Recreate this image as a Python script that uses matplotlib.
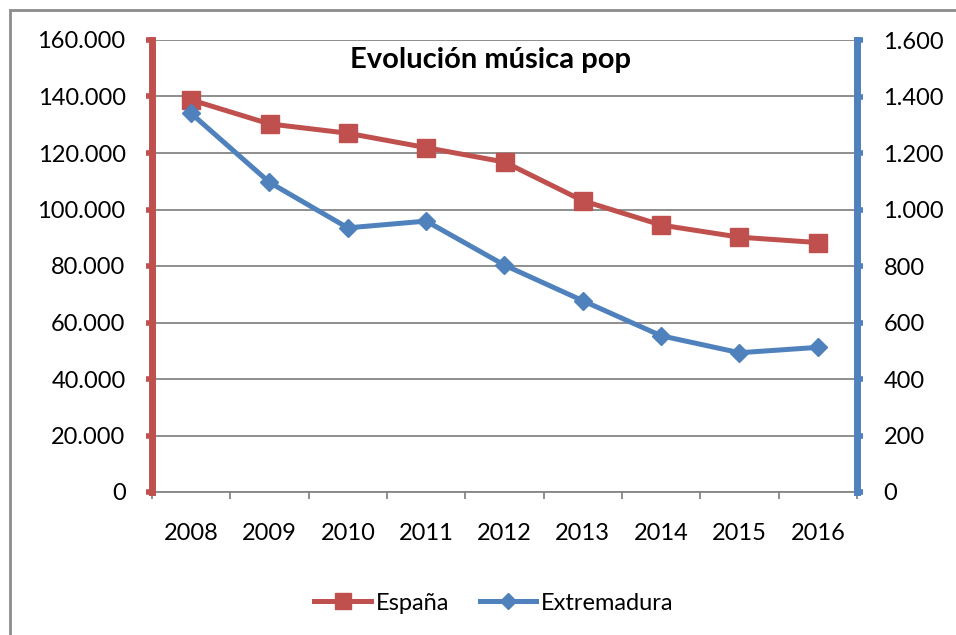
import matplotlib.pyplot as plt
import matplotlib.patches as patches
from matplotlib.ticker import FuncFormatter, FixedLocator
import numpy as np

# data
years = ['2008', '2009', '2010', '2011', '2012', '2013', '2014', '2015', '2016']
espana = [138800, 130300, 127000, 121900, 116800, 103100, 94500, 90200, 88300]
extremadura = [1340, 1096, 935, 959, 803, 677, 553, 493, 512]

red = '#C0504D'
blue = '#4F81BD'
grid_col = '#868686'

plt.rcParams['font.family'] = ['Lato', 'DejaVu Sans']


def miles(v, pos):
    # thousands separator with a dot, like the spanish excel output
    return '{:,.0f}'.format(v).replace(',', '.')


fig = plt.figure(figsize=(9.56, 6.35), dpi=100)

# grey frame of the chart area (only left and top visible)
frame = patches.Rectangle((10/956, -0.5), 1.5, 1.5 - 10/635, transform=fig.transFigure,
                          fill=False, edgecolor='#8c8c8c', lw=2, zorder=0)
fig.patches.append(frame)

ax = fig.add_axes([152/956, 1-492/635, (857-152)/956, (492-40)/635])
ax2 = ax.twinx()

x = np.arange(len(years))

ax.plot(x, espana, color=red, lw=3.6, marker='s', ms=13, zorder=4, label='España')
ax2.plot(x, extremadura, color=blue, lw=3.6, marker='D', ms=9.5, zorder=4, label='Extremadura')

ax.set_xlim(-0.5, len(years) - 0.5)
ax.set_ylim(0, 160000)
ax2.set_ylim(0, 1600)

ax.set_yticks(np.arange(0, 160001, 20000))
ax2.set_yticks(np.arange(0, 1601, 200))
ax.yaxis.set_major_formatter(FuncFormatter(miles))
ax2.yaxis.set_major_formatter(FuncFormatter(miles))

ax.yaxis.grid(True, color=grid_col, lw=1.3)
ax.set_axisbelow(True)

fs = 17

# category labels in the middle, tick marks between categories
ax.set_xticks(x)
ax.set_xticklabels(years)
ax.xaxis.set_minor_locator(FixedLocator(np.arange(-0.5, len(years), 1.0)))
ax.tick_params(axis='x', which='major', length=0, pad=22, labelsize=fs)
ax.tick_params(axis='x', which='minor', length=5, width=1.3, color=grid_col, direction='out')

ax.tick_params(axis='y', length=4, width=4, color=red, pad=15, labelsize=fs)
ax2.tick_params(axis='y', length=4, width=4, color=blue, pad=15, labelsize=fs)

for a in (ax, ax2):
    a.spines['top'].set_visible(False)
    a.spines['bottom'].set_visible(False)
    a.spines['left'].set_visible(False)
    a.spines['right'].set_visible(False)
    a.patch.set_visible(False)

ax.spines['bottom'].set_visible(True)
ax.spines['bottom'].set_color(grid_col)
ax.spines['bottom'].set_linewidth(1.3)

ax2.spines['left'].set_visible(True)
ax2.spines['left'].set_color(red)
ax2.spines['left'].set_linewidth(5)
ax2.spines['right'].set_visible(True)
ax2.spines['right'].set_color(blue)
ax2.spines['right'].set_linewidth(5)

fig.text(490/956, 1-60/635, 'Evolución música pop', ha='center', va='center',
         fontsize=21, fontweight='bold')

h1, l1 = ax.get_legend_handles_labels()
h2, l2 = ax2.get_legend_handles_labels()
fig.legend(h1 + h2, l1 + l2, loc='center', bbox_to_anchor=(494/956, 1-603/635),
           ncol=2, frameon=False, fontsize=fs, handlelength=2.4,
           handletextpad=0.2, columnspacing=1.3, markerscale=0.9)

fig.savefig('out.png', dpi=100)
